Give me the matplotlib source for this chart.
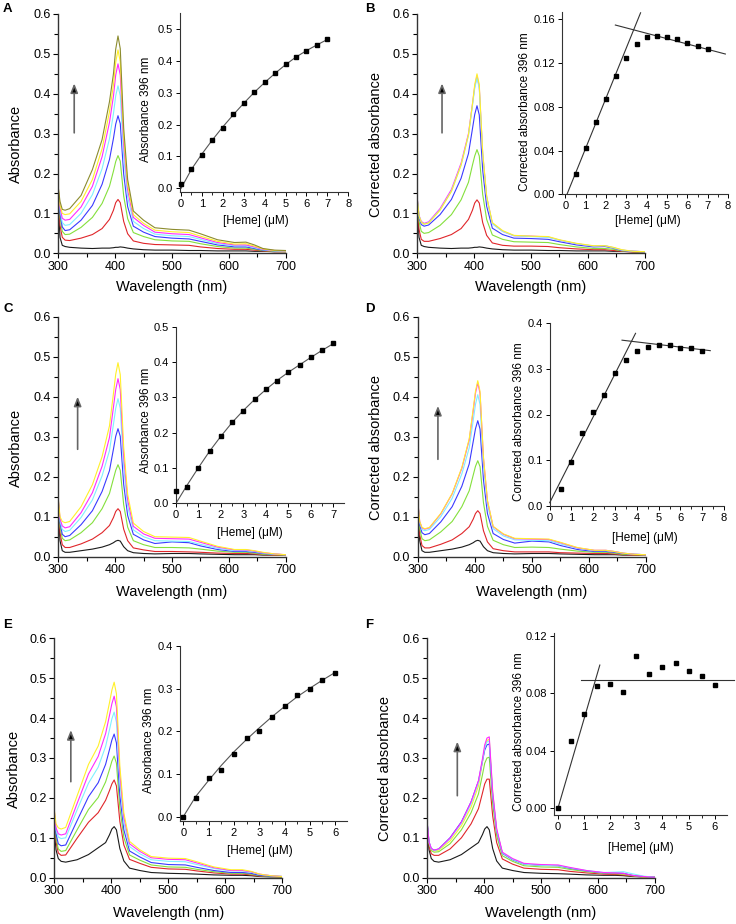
import matplotlib
matplotlib.use('Agg')
import matplotlib.pyplot as plt
from matplotlib.ticker import MultipleLocator, FormatStrFormatter

plt.rcParams['font.family'] = ['Liberation Sans', 'DejaVu Sans']

wl = [300, 303, 307, 312, 320, 340, 360, 377, 390, 397, 401, 405, 409, 415,
      422, 432, 450, 470, 500, 530, 550, 580, 610, 630, 645, 660, 680, 700]

# panel A spectra: black, red, green, blue, cyan, magenta, yellow, olive
spec_a = [
    [0.120, 0.040, 0.020, 0.017, 0.015, 0.013, 0.012, 0.013, 0.013, 0.014, 0.015, 0.015, 0.016, 0.015,
     0.013, 0.011, 0.009, 0.008, 0.008, 0.007, 0.007, 0.006, 0.006, 0.006, 0.005, 0.005, 0.004, 0.004],
    [0.140, 0.070, 0.040, 0.033, 0.032, 0.038, 0.047, 0.062, 0.085, 0.108, 0.127, 0.135, 0.127, 0.080,
     0.049, 0.031, 0.025, 0.022, 0.021, 0.020, 0.016, 0.012, 0.010, 0.010, 0.008, 0.006, 0.004, 0.004],
    [0.150, 0.090, 0.055, 0.047, 0.048, 0.065, 0.090, 0.125, 0.168, 0.206, 0.230, 0.245, 0.231, 0.144,
     0.087, 0.052, 0.042, 0.034, 0.031, 0.030, 0.024, 0.017, 0.013, 0.013, 0.010, 0.007, 0.005, 0.004],
    [0.155, 0.100, 0.066, 0.057, 0.059, 0.083, 0.120, 0.173, 0.235, 0.288, 0.324, 0.345, 0.325, 0.199,
     0.117, 0.068, 0.053, 0.042, 0.038, 0.036, 0.030, 0.021, 0.016, 0.016, 0.012, 0.008, 0.006, 0.005],
    [0.158, 0.110, 0.077, 0.070, 0.072, 0.100, 0.147, 0.212, 0.287, 0.350, 0.395, 0.420, 0.395, 0.241,
     0.141, 0.080, 0.062, 0.048, 0.044, 0.042, 0.035, 0.024, 0.019, 0.019, 0.014, 0.009, 0.006, 0.005],
    [0.160, 0.115, 0.088, 0.083, 0.085, 0.116, 0.168, 0.242, 0.328, 0.394, 0.447, 0.475, 0.447, 0.272,
     0.159, 0.090, 0.070, 0.053, 0.049, 0.047, 0.039, 0.027, 0.021, 0.021, 0.016, 0.010, 0.007, 0.006],
    [0.163, 0.120, 0.100, 0.097, 0.099, 0.130, 0.185, 0.262, 0.355, 0.422, 0.479, 0.510, 0.480, 0.292,
     0.171, 0.097, 0.075, 0.058, 0.054, 0.052, 0.043, 0.030, 0.023, 0.024, 0.018, 0.011, 0.007, 0.006],
    [0.165, 0.130, 0.110, 0.108, 0.112, 0.145, 0.210, 0.285, 0.380, 0.450, 0.512, 0.545, 0.513, 0.314,
     0.185, 0.106, 0.083, 0.064, 0.060, 0.058, 0.049, 0.034, 0.027, 0.028, 0.021, 0.012, 0.008, 0.007],
]

# panel B spectra: black, red, green, blue, magenta, cyan, yellow
spec_b = [
    [0.120, 0.040, 0.020, 0.017, 0.015, 0.013, 0.012, 0.013, 0.013, 0.014, 0.015, 0.015, 0.016, 0.015,
     0.013, 0.011, 0.009, 0.008, 0.008, 0.007, 0.007, 0.006, 0.006, 0.006, 0.005, 0.005, 0.004, 0.004],
    [0.130, 0.060, 0.035, 0.030, 0.030, 0.037, 0.047, 0.062, 0.085, 0.108, 0.126, 0.134, 0.126, 0.077,
     0.045, 0.026, 0.020, 0.018, 0.018, 0.017, 0.014, 0.011, 0.009, 0.009, 0.007, 0.005, 0.003, 0.003],
    [0.130, 0.080, 0.055, 0.050, 0.052, 0.070, 0.097, 0.134, 0.178, 0.221, 0.244, 0.260, 0.244, 0.148,
     0.085, 0.046, 0.035, 0.029, 0.028, 0.027, 0.022, 0.016, 0.012, 0.012, 0.010, 0.006, 0.004, 0.003],
    [0.135, 0.090, 0.072, 0.068, 0.071, 0.097, 0.135, 0.188, 0.250, 0.312, 0.348, 0.370, 0.347, 0.209,
     0.118, 0.063, 0.047, 0.038, 0.037, 0.035, 0.029, 0.021, 0.016, 0.017, 0.013, 0.007, 0.005, 0.004],
    [0.137, 0.095, 0.080, 0.075, 0.079, 0.112, 0.160, 0.226, 0.300, 0.374, 0.418, 0.445, 0.418, 0.250,
     0.141, 0.075, 0.055, 0.044, 0.043, 0.041, 0.033, 0.024, 0.018, 0.019, 0.014, 0.008, 0.005, 0.004],
    [0.136, 0.094, 0.078, 0.073, 0.077, 0.109, 0.156, 0.221, 0.295, 0.370, 0.414, 0.440, 0.413, 0.248,
     0.140, 0.074, 0.055, 0.044, 0.042, 0.040, 0.033, 0.024, 0.018, 0.019, 0.014, 0.008, 0.005, 0.004],
    [0.136, 0.094, 0.078, 0.073, 0.076, 0.108, 0.155, 0.221, 0.297, 0.374, 0.423, 0.450, 0.423, 0.254,
     0.143, 0.077, 0.057, 0.045, 0.043, 0.042, 0.034, 0.025, 0.019, 0.019, 0.015, 0.009, 0.005, 0.004],
]

# panel C spectra: black, red, green, blue, cyan, magenta, yellow
spec_c = [
    [0.120, 0.040, 0.015, 0.011, 0.011, 0.015, 0.019, 0.024, 0.030, 0.035, 0.039, 0.041, 0.039, 0.025,
     0.015, 0.010, 0.008, 0.007, 0.008, 0.008, 0.007, 0.006, 0.005, 0.005, 0.005, 0.004, 0.004, 0.003],
    [0.130, 0.060, 0.030, 0.023, 0.023, 0.032, 0.044, 0.060, 0.078, 0.098, 0.113, 0.120, 0.113, 0.069,
     0.040, 0.022, 0.017, 0.013, 0.013, 0.012, 0.011, 0.009, 0.008, 0.008, 0.007, 0.005, 0.004, 0.003],
    [0.135, 0.075, 0.046, 0.040, 0.042, 0.060, 0.085, 0.120, 0.158, 0.195, 0.216, 0.230, 0.216, 0.130,
     0.074, 0.040, 0.030, 0.023, 0.023, 0.022, 0.019, 0.014, 0.011, 0.011, 0.009, 0.006, 0.005, 0.004],
    [0.140, 0.085, 0.056, 0.050, 0.053, 0.080, 0.115, 0.163, 0.215, 0.269, 0.301, 0.320, 0.301, 0.181,
     0.103, 0.056, 0.042, 0.033, 0.037, 0.035, 0.027, 0.018, 0.013, 0.013, 0.011, 0.008, 0.006, 0.005],
    [0.142, 0.090, 0.068, 0.063, 0.066, 0.098, 0.142, 0.202, 0.265, 0.331, 0.371, 0.395, 0.371, 0.223,
     0.126, 0.067, 0.050, 0.040, 0.039, 0.038, 0.031, 0.021, 0.015, 0.015, 0.013, 0.009, 0.006, 0.005],
    [0.143, 0.095, 0.077, 0.072, 0.075, 0.110, 0.160, 0.226, 0.298, 0.374, 0.418, 0.445, 0.418, 0.251,
     0.142, 0.076, 0.057, 0.046, 0.045, 0.044, 0.036, 0.024, 0.017, 0.017, 0.014, 0.010, 0.007, 0.005],
    [0.145, 0.100, 0.088, 0.085, 0.088, 0.125, 0.180, 0.250, 0.327, 0.408, 0.456, 0.485, 0.455, 0.274,
     0.156, 0.084, 0.063, 0.050, 0.049, 0.048, 0.039, 0.026, 0.018, 0.018, 0.015, 0.011, 0.007, 0.005],
]

# panel D spectra: black, red, green, blue, cyan, magenta, yellow
spec_d = [
    [0.110, 0.040, 0.015, 0.011, 0.011, 0.015, 0.019, 0.024, 0.030, 0.035, 0.039, 0.041, 0.039, 0.025,
     0.015, 0.010, 0.008, 0.007, 0.008, 0.008, 0.007, 0.006, 0.005, 0.005, 0.005, 0.004, 0.004, 0.003],
    [0.120, 0.055, 0.028, 0.022, 0.022, 0.031, 0.042, 0.058, 0.075, 0.094, 0.108, 0.115, 0.108, 0.065,
     0.037, 0.020, 0.015, 0.012, 0.012, 0.012, 0.010, 0.009, 0.008, 0.008, 0.007, 0.005, 0.004, 0.003],
    [0.125, 0.070, 0.045, 0.040, 0.042, 0.062, 0.088, 0.125, 0.165, 0.204, 0.226, 0.240, 0.225, 0.135,
     0.076, 0.041, 0.030, 0.023, 0.024, 0.023, 0.019, 0.014, 0.011, 0.011, 0.009, 0.006, 0.005, 0.004],
    [0.130, 0.080, 0.060, 0.055, 0.058, 0.087, 0.125, 0.176, 0.232, 0.288, 0.320, 0.340, 0.319, 0.192,
     0.108, 0.058, 0.043, 0.034, 0.039, 0.037, 0.028, 0.018, 0.013, 0.013, 0.011, 0.008, 0.006, 0.005],
    [0.132, 0.085, 0.068, 0.065, 0.068, 0.100, 0.146, 0.207, 0.272, 0.341, 0.381, 0.405, 0.380, 0.229,
     0.130, 0.070, 0.052, 0.042, 0.041, 0.040, 0.032, 0.021, 0.015, 0.015, 0.013, 0.009, 0.006, 0.005],
    [0.133, 0.088, 0.072, 0.069, 0.072, 0.107, 0.157, 0.221, 0.292, 0.365, 0.409, 0.435, 0.408, 0.246,
     0.139, 0.075, 0.056, 0.045, 0.044, 0.043, 0.035, 0.022, 0.016, 0.016, 0.013, 0.009, 0.006, 0.005],
    [0.133, 0.088, 0.073, 0.070, 0.073, 0.108, 0.158, 0.223, 0.295, 0.370, 0.414, 0.440, 0.413, 0.249,
     0.141, 0.076, 0.057, 0.046, 0.045, 0.044, 0.036, 0.023, 0.016, 0.016, 0.013, 0.009, 0.006, 0.005],
]

# panel E spectra: black, red, green, blue, cyan, magenta, yellow
spec_e = [
    [0.120, 0.070, 0.048, 0.041, 0.039, 0.045, 0.058, 0.075, 0.088, 0.108, 0.122, 0.128, 0.120, 0.073,
     0.042, 0.024, 0.018, 0.013, 0.011, 0.010, 0.009, 0.007, 0.006, 0.006, 0.005, 0.003, 0.002, 0.002],
    [0.150, 0.090, 0.062, 0.056, 0.057, 0.099, 0.139, 0.163, 0.194, 0.219, 0.235, 0.245, 0.230, 0.141,
     0.082, 0.046, 0.036, 0.026, 0.022, 0.021, 0.017, 0.012, 0.009, 0.009, 0.007, 0.004, 0.003, 0.002],
    [0.155, 0.100, 0.072, 0.066, 0.068, 0.120, 0.171, 0.201, 0.240, 0.272, 0.292, 0.305, 0.287, 0.175,
     0.101, 0.057, 0.044, 0.032, 0.027, 0.026, 0.021, 0.015, 0.011, 0.011, 0.009, 0.005, 0.003, 0.002],
    [0.160, 0.110, 0.085, 0.080, 0.082, 0.143, 0.203, 0.238, 0.284, 0.322, 0.345, 0.360, 0.338, 0.206,
     0.120, 0.067, 0.052, 0.038, 0.033, 0.032, 0.026, 0.018, 0.013, 0.013, 0.011, 0.006, 0.004, 0.003],
    [0.165, 0.120, 0.102, 0.098, 0.100, 0.170, 0.237, 0.277, 0.329, 0.372, 0.398, 0.415, 0.390, 0.238,
     0.138, 0.078, 0.060, 0.045, 0.041, 0.040, 0.033, 0.023, 0.017, 0.017, 0.014, 0.008, 0.005, 0.003],
    [0.168, 0.125, 0.110, 0.107, 0.110, 0.186, 0.260, 0.304, 0.361, 0.408, 0.436, 0.455, 0.428, 0.261,
     0.152, 0.085, 0.066, 0.050, 0.046, 0.045, 0.037, 0.025, 0.018, 0.018, 0.015, 0.009, 0.005, 0.003],
    [0.170, 0.135, 0.125, 0.122, 0.126, 0.205, 0.284, 0.330, 0.391, 0.440, 0.470, 0.490, 0.461, 0.280,
     0.162, 0.091, 0.070, 0.053, 0.049, 0.048, 0.040, 0.027, 0.020, 0.020, 0.016, 0.009, 0.005, 0.003],
]

# panel F spectra: black, red, green, yellow, blue, cyan, magenta
spec_f = [
    [0.120, 0.070, 0.048, 0.041, 0.039, 0.045, 0.058, 0.075, 0.088, 0.108, 0.122, 0.128, 0.120, 0.073,
     0.042, 0.024, 0.018, 0.013, 0.011, 0.010, 0.009, 0.007, 0.006, 0.006, 0.005, 0.003, 0.002, 0.001],
    [0.130, 0.080, 0.060, 0.056, 0.056, 0.072, 0.100, 0.135, 0.173, 0.212, 0.235, 0.247, 0.247, 0.155,
     0.088, 0.047, 0.034, 0.024, 0.021, 0.020, 0.016, 0.012, 0.009, 0.008, 0.007, 0.004, 0.002, 0.001],
    [0.132, 0.085, 0.068, 0.064, 0.065, 0.085, 0.120, 0.163, 0.210, 0.258, 0.287, 0.300, 0.302, 0.185,
     0.105, 0.055, 0.041, 0.030, 0.027, 0.026, 0.021, 0.015, 0.011, 0.010, 0.009, 0.005, 0.002, 0.001],
    [0.133, 0.088, 0.071, 0.067, 0.069, 0.092, 0.130, 0.177, 0.230, 0.290, 0.327, 0.344, 0.347, 0.212,
     0.120, 0.062, 0.046, 0.034, 0.031, 0.030, 0.024, 0.017, 0.012, 0.011, 0.010, 0.006, 0.002, 0.001],
    [0.135, 0.090, 0.073, 0.069, 0.072, 0.100, 0.140, 0.190, 0.242, 0.292, 0.320, 0.333, 0.335, 0.205,
     0.117, 0.061, 0.045, 0.034, 0.031, 0.030, 0.024, 0.017, 0.012, 0.012, 0.011, 0.006, 0.003, 0.001],
    [0.134, 0.089, 0.072, 0.068, 0.071, 0.097, 0.136, 0.185, 0.238, 0.292, 0.325, 0.340, 0.343, 0.210,
     0.119, 0.062, 0.046, 0.034, 0.031, 0.030, 0.025, 0.018, 0.013, 0.014, 0.015, 0.010, 0.004, 0.001],
    [0.135, 0.090, 0.073, 0.069, 0.072, 0.099, 0.139, 0.190, 0.243, 0.298, 0.333, 0.350, 0.353, 0.216,
     0.123, 0.064, 0.048, 0.036, 0.033, 0.032, 0.026, 0.018, 0.013, 0.012, 0.011, 0.006, 0.003, 0.001],
]

# inset data: heme concentration (uM) vs absorbance at 396 nm
heme_a = [0, 0.5, 1, 1.5, 2, 2.5, 3, 3.5, 4, 4.5, 5, 5.5, 6, 6.5, 7]
abs_a = [0.015, 0.062, 0.106, 0.152, 0.190, 0.232, 0.267, 0.302, 0.333, 0.362, 0.389, 0.413, 0.430, 0.449, 0.467]
fit_a = [0.0, 0.060, 0.108, 0.152, 0.193, 0.231, 0.267, 0.301, 0.332, 0.361, 0.388, 0.412, 0.432, 0.450, 0.467]

heme_b = [0.5, 1, 1.5, 2, 2.5, 3, 3.5, 4, 4.5, 5, 5.5, 6, 6.5, 7]
abs_b = [0.0186, 0.042, 0.0664, 0.0869, 0.108, 0.1246, 0.1374, 0.1435, 0.145, 0.1442, 0.1417, 0.1387, 0.1353, 0.1329]
rise_b_x, rise_b_y = [0.08, 3.70], [0.0, 0.166]
fall_b_x, fall_b_y = [2.46, 7.87], [0.1548, 0.1283]

heme_c = [0, 0.5, 1, 1.5, 2, 2.5, 3, 3.5, 4, 4.5, 5, 5.5, 6, 6.5, 7]
abs_c = [0.035, 0.047, 0.099, 0.149, 0.190, 0.229, 0.262, 0.294, 0.323, 0.347, 0.371, 0.391, 0.413, 0.434, 0.453]
fit_c = [0.0, 0.052, 0.101, 0.148, 0.190, 0.229, 0.263, 0.294, 0.322, 0.348, 0.371, 0.392, 0.413, 0.433, 0.452]

heme_d = [0.5, 1, 1.5, 2, 2.5, 3, 3.5, 4, 4.5, 5, 5.5, 6, 6.5, 7]
abs_d = [0.037, 0.095, 0.159, 0.205, 0.242, 0.290, 0.320, 0.339, 0.347, 0.352, 0.353, 0.346, 0.345, 0.339]
rise_d_x, rise_d_y = [0.0, 3.94], [0.0066, 0.378]
fall_d_x, fall_d_y = [3.32, 7.37], [0.363, 0.340]

heme_e = [0, 0.5, 1, 1.5, 2, 2.5, 3, 3.5, 4, 4.5, 5, 5.5, 6]
abs_e = [0.0, 0.0445, 0.091, 0.109, 0.147, 0.185, 0.2016, 0.234, 0.259, 0.284, 0.299, 0.320, 0.3375]
fit_e = [0.0, 0.048, 0.085, 0.120, 0.152, 0.181, 0.208, 0.234, 0.258, 0.281, 0.301, 0.320, 0.338]

heme_f = [0, 0.5, 1, 1.5, 2, 2.5, 3, 3.5, 4, 4.5, 5, 5.5, 6]
abs_f = [0.0, 0.0467, 0.0653, 0.0849, 0.0867, 0.0809, 0.1063, 0.0937, 0.0981, 0.1014, 0.0958, 0.0923, 0.0856]
rise_f_x, rise_f_y = [0.0, 1.6], [0.0, 0.0998]
flat_f_x, flat_f_y = [0.89, 6.73], [0.0893, 0.0893]

BLACK = '#1a1a1a'
RED = '#e0262a'
GREEN = '#84e03c'
BLUE = '#3a3aff'
CYAN = '#7ff0ff'
MAGENTA = '#ff2bff'
YELLOW = '#fff02a'
OLIVE = '#8c8c2e'

W, H = 736, 924
fig = plt.figure(figsize=(W / 100, H / 100), dpi=100)


def px_axes(l, t, r, b):
    # axes placed by pixel edges of the 736x924 canvas
    return fig.add_axes([l / W, 1 - b / H, (r - l) / W, (b - t) / H])


def spectrum_panel(rect, spectra, colours, ylabel, ylab_x, xlab_y, arrow_x, arrow_y0, arrow_y1):
    ax = px_axes(*rect)
    for row, c in zip(spectra, colours):
        ax.plot(wl, row, color=c, lw=0.8)
    ax.set_xlim(300, 700)
    ax.set_ylim(0, 0.6)
    ax.xaxis.set_major_locator(MultipleLocator(100))
    ax.xaxis.set_minor_locator(MultipleLocator(50))
    ax.yaxis.set_major_locator(MultipleLocator(0.1))
    ax.yaxis.set_minor_locator(MultipleLocator(0.05))
    ax.yaxis.set_major_formatter(FormatStrFormatter('%.1f'))
    for s in ['top', 'right']:
        ax.spines[s].set_visible(False)
    for s in ['left', 'bottom']:
        ax.spines[s].set_linewidth(1.0)
        ax.spines[s].set_color('#333333')
    ax.tick_params(which='major', direction='out', length=3.5, width=0.8, labelsize=9, pad=2)
    ax.tick_params(which='minor', direction='out', length=3, width=0.8)
    ax.set_xlabel('Wavelength (nm)', fontsize=10.5)
    ax.set_ylabel(ylabel, fontsize=10.5)
    ax.xaxis.set_label_coords(0.5, xlab_y)
    ax.yaxis.set_label_coords(ylab_x, 0.455)
    ax.annotate('', xy=(arrow_x, arrow_y1), xytext=(arrow_x, arrow_y0),
                arrowprops=dict(arrowstyle='-|>,head_width=0.22,head_length=0.55',
                                ec='#666666', fc='black', lw=1.2, shrinkA=0, shrinkB=0))
    return ax


def inset(rect, xlim, ylim, xstep, ystep, yfmt, ylabel, ylab_xy, xlab_xy):
    ax = px_axes(*rect)
    ax.set_xlim(*xlim)
    ax.set_ylim(*ylim)
    ax.xaxis.set_major_locator(MultipleLocator(xstep))
    ax.xaxis.set_minor_locator(MultipleLocator(xstep / 2))
    ax.yaxis.set_major_locator(MultipleLocator(ystep))
    ax.yaxis.set_major_formatter(FormatStrFormatter(yfmt))
    ax.patch.set_alpha(0)
    for s in ['top', 'right']:
        ax.spines[s].set_visible(False)
    for s in ['left', 'bottom']:
        ax.spines[s].set_linewidth(0.8)
        ax.spines[s].set_color('#333333')
    ax.tick_params(which='major', direction='out', length=3, width=0.7, labelsize=8, pad=2)
    ax.tick_params(which='minor', direction='out', length=2, width=0.6)
    ax.set_xlabel('[Heme] (\u03bcM)', fontsize=8.5)
    ax.set_ylabel(ylabel, fontsize=8.5)
    ax.xaxis.set_label_coords(*xlab_xy)
    ax.yaxis.set_label_coords(*ylab_xy)
    return ax


def dots(ax, x, y):
    ax.plot(x, y, 's', color='black', ms=3.2, clip_on=False, zorder=5)


# ---- A ----
spectrum_panel((58.3, 14, 285.7, 253.3), spec_a,
               [BLACK, RED, GREEN, BLUE, CYAN, MAGENTA, YELLOW, OLIVE],
               'Absorbance', -0.155, -0.112, 328, 0.302, 0.426)
ia = inset((180, 12.7, 348.3, 191.7), (-0.05, 8), (-0.0105, 0.551), 1, 0.1, '%.1f',
           'Absorbance 396 nm', (-0.166, 0.46), (0.45, -0.13))
ia.plot(heme_a, fit_a, color='#555555', lw=0.8)
dots(ia, heme_a, abs_a)

# ---- B ----
spectrum_panel((417.3, 14, 644.7, 253.3), spec_b,
               [BLACK, RED, GREEN, BLUE, MAGENTA, CYAN, YELLOW],
               'Corrected absorbance', -0.151, -0.112, 343.5, 0.302, 0.426)
ib = inset((562.3, 11.7, 728, 194.3), (-0.15, 8), (0, 0.167), 1, 0.04, '%.2f',
           'Corrected absorbance 396 nm', (-0.187, 0.452), (0.517, -0.113))
ib.plot(rise_b_x, rise_b_y, color='#333333', lw=0.8, clip_on=False)
ib.plot(fall_b_x, fall_b_y, color='#333333', lw=0.8, clip_on=False)
dots(ib, heme_b, abs_b)

# ---- C ----
spectrum_panel((58.3, 316.7, 285.7, 556.7), spec_c,
               [BLACK, RED, GREEN, BLUE, CYAN, MAGENTA, YELLOW],
               'Absorbance', -0.154, -0.118, 334, 0.2685, 0.40)
ic = inset((176, 326.7, 344.3, 503.3), (0, 7.49), (0, 0.5), 1, 0.1, '%.1f',
           'Absorbance 396 nm', (-0.143, 0.47), (0.44, -0.132))
ic.plot(heme_c, fit_c, color='#555555', lw=0.8)
dots(ic, heme_c, abs_c)

# ---- D ----
spectrum_panel((418, 316.7, 645.7, 556.7), spec_d,
               [BLACK, RED, GREEN, BLUE, CYAN, MAGENTA, YELLOW],
               'Corrected absorbance', -0.153, -0.118, 335, 0.2435, 0.377)
idd = inset((549.7, 323.3, 724, 505.7), (0, 8), (0, 0.4), 1, 0.1, '%.1f',
            'Corrected absorbance 396 nm', (-0.143, 0.46), (0.545, -0.142))
idd.plot(rise_d_x, rise_d_y, color='#333333', lw=0.8, clip_on=False)
idd.plot(fall_d_x, fall_d_y, color='#333333', lw=0.8, clip_on=False)
dots(idd, heme_d, abs_d)

# ---- E ----
spectrum_panel((54.3, 638.3, 282.3, 877.7), spec_e,
               [BLACK, RED, GREEN, BLUE, CYAN, MAGENTA, YELLOW],
               'Absorbance', -0.146, -0.118, 329, 0.2406, 0.370)
ie = inset((180, 646, 347, 820.7), (-0.13, 6.47), (-0.0094, 0.4), 1, 0.1, '%.1f',
           'Absorbance 396 nm', (-0.15, 0.46), (0.479, -0.139))
ie.plot(heme_e, fit_e, color='#555555', lw=0.8)
dots(ie, heme_e, abs_e)

# ---- F ----
spectrum_panel((427.3, 638.3, 654.7, 877.7), spec_f,
               [BLACK, RED, GREEN, YELLOW, BLUE, CYAN, MAGENTA],
               'Corrected absorbance', -0.155, -0.118, 352.8, 0.2055, 0.341)
iff = inset((553.7, 633.3, 727, 815), (-0.166, 6.47), (-0.005, 0.122), 1, 0.04, '%.2f',
            'Corrected absorbance 396 nm', (-0.167, 0.458), (0.505, -0.147))
iff.plot(rise_f_x, rise_f_y, color='#333333', lw=0.8, clip_on=False)
iff.plot(flat_f_x, flat_f_y, color='#333333', lw=0.8, clip_on=False)
dots(iff, heme_f, abs_f)

# panel letters
for letter, x, y in [('A', 3, 3), ('B', 365, 3), ('C', 3, 303), ('D', 365, 303),
                     ('E', 3, 619), ('F', 365, 619)]:
    fig.text(x / W, 1 - y / H, letter, fontsize=9.5, fontweight='bold', va='top', ha='left')

fig.savefig('out.png', dpi=100)
